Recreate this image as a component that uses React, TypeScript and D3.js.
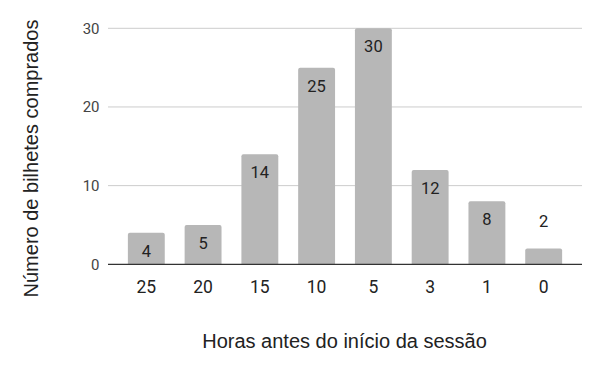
import React from "react";
import * as d3 from "d3";

const categories = ["25", "20", "15", "10", "5", "3", "1", "0"];
const values = [4, 5, 14, 25, 30, 12, 8, 2];
const yTicks = [0, 10, 20, 30];
const xTitle = "Horas antes do início da sessão";
const yTitle = "Número de bilhetes comprados";

const W = 600;
const H = 371;
const left = 108;
const right = 582;
const top = 28.3;
const bottom = 264.3;

export default function App() {
  const x = d3.scaleBand<string>().domain(categories).range([left, right]).padding(0.35);
  const y = d3.scaleLinear().domain([0, 30]).range([bottom, top]);
  const labelFont = "Roboto, Arial, sans-serif";
  const titleFont = "'Liberation Sans', Arial, sans-serif";
  return (
    <svg width={W} height={H} style={{ position: "absolute", left: 0, top: 0, background: "#fff" }}>
      {yTicks.map((t) => (
        <g key={t}>
          {t !== 0 && (
            <line x1={left} x2={right} y1={y(t)} y2={y(t)} stroke="#cccccc" strokeWidth={1} />
          )}
          <text
            x={99.5}
            y={y(t)}
            dy="0.35em"
            textAnchor="end"
            fontFamily={labelFont}
            fontSize={15}
            fill="#444"
          >
            {t}
          </text>
        </g>
      ))}
      {categories.map((c, i) => {
        const v = values[i];
        const bx = x(c)!;
        const bw = x.bandwidth();
        const by = y(v);
        const h = bottom - by;
        const r = 2;
        const path = `M${bx},${bottom} V${by + r} Q${bx},${by} ${bx + r},${by} H${bx + bw - r} Q${bx + bw},${by} ${bx + bw},${by + r} V${bottom} Z`;
        const inside = h > 30;
        return (
          <g key={c}>
            <path d={path} fill="#b7b7b7" />
            <text
              x={bx + bw / 2}
              y={inside ? by + 24 : by - 22}
              textAnchor="middle"
              fontFamily={labelFont}
              fontSize={16.5}
              fill="#222"
            >
              {v}
            </text>
            <text
              x={bx + bw / 2}
              y={292.5}
              textAnchor="middle"
              fontFamily={labelFont}
              fontSize={17.5}
              fill="#222"
            >
              {c}
            </text>
          </g>
        );
      })}
      <line x1={left} x2={right} y1={bottom} y2={bottom} stroke="#333" strokeWidth={1.3} />
      <text
        x={344.5}
        y={348}
        textAnchor="middle"
        fontFamily={titleFont}
        fontSize={20}
        fill="#222"
      >
        {xTitle}
      </text>
      <text
        transform={`translate(38, ${(22 + 295) / 2}) rotate(-90)`}
        textAnchor="middle"
        fontFamily={titleFont}
        fontSize={20}
        fill="#222"
      >
        {yTitle}
      </text>
    </svg>
  );
}
